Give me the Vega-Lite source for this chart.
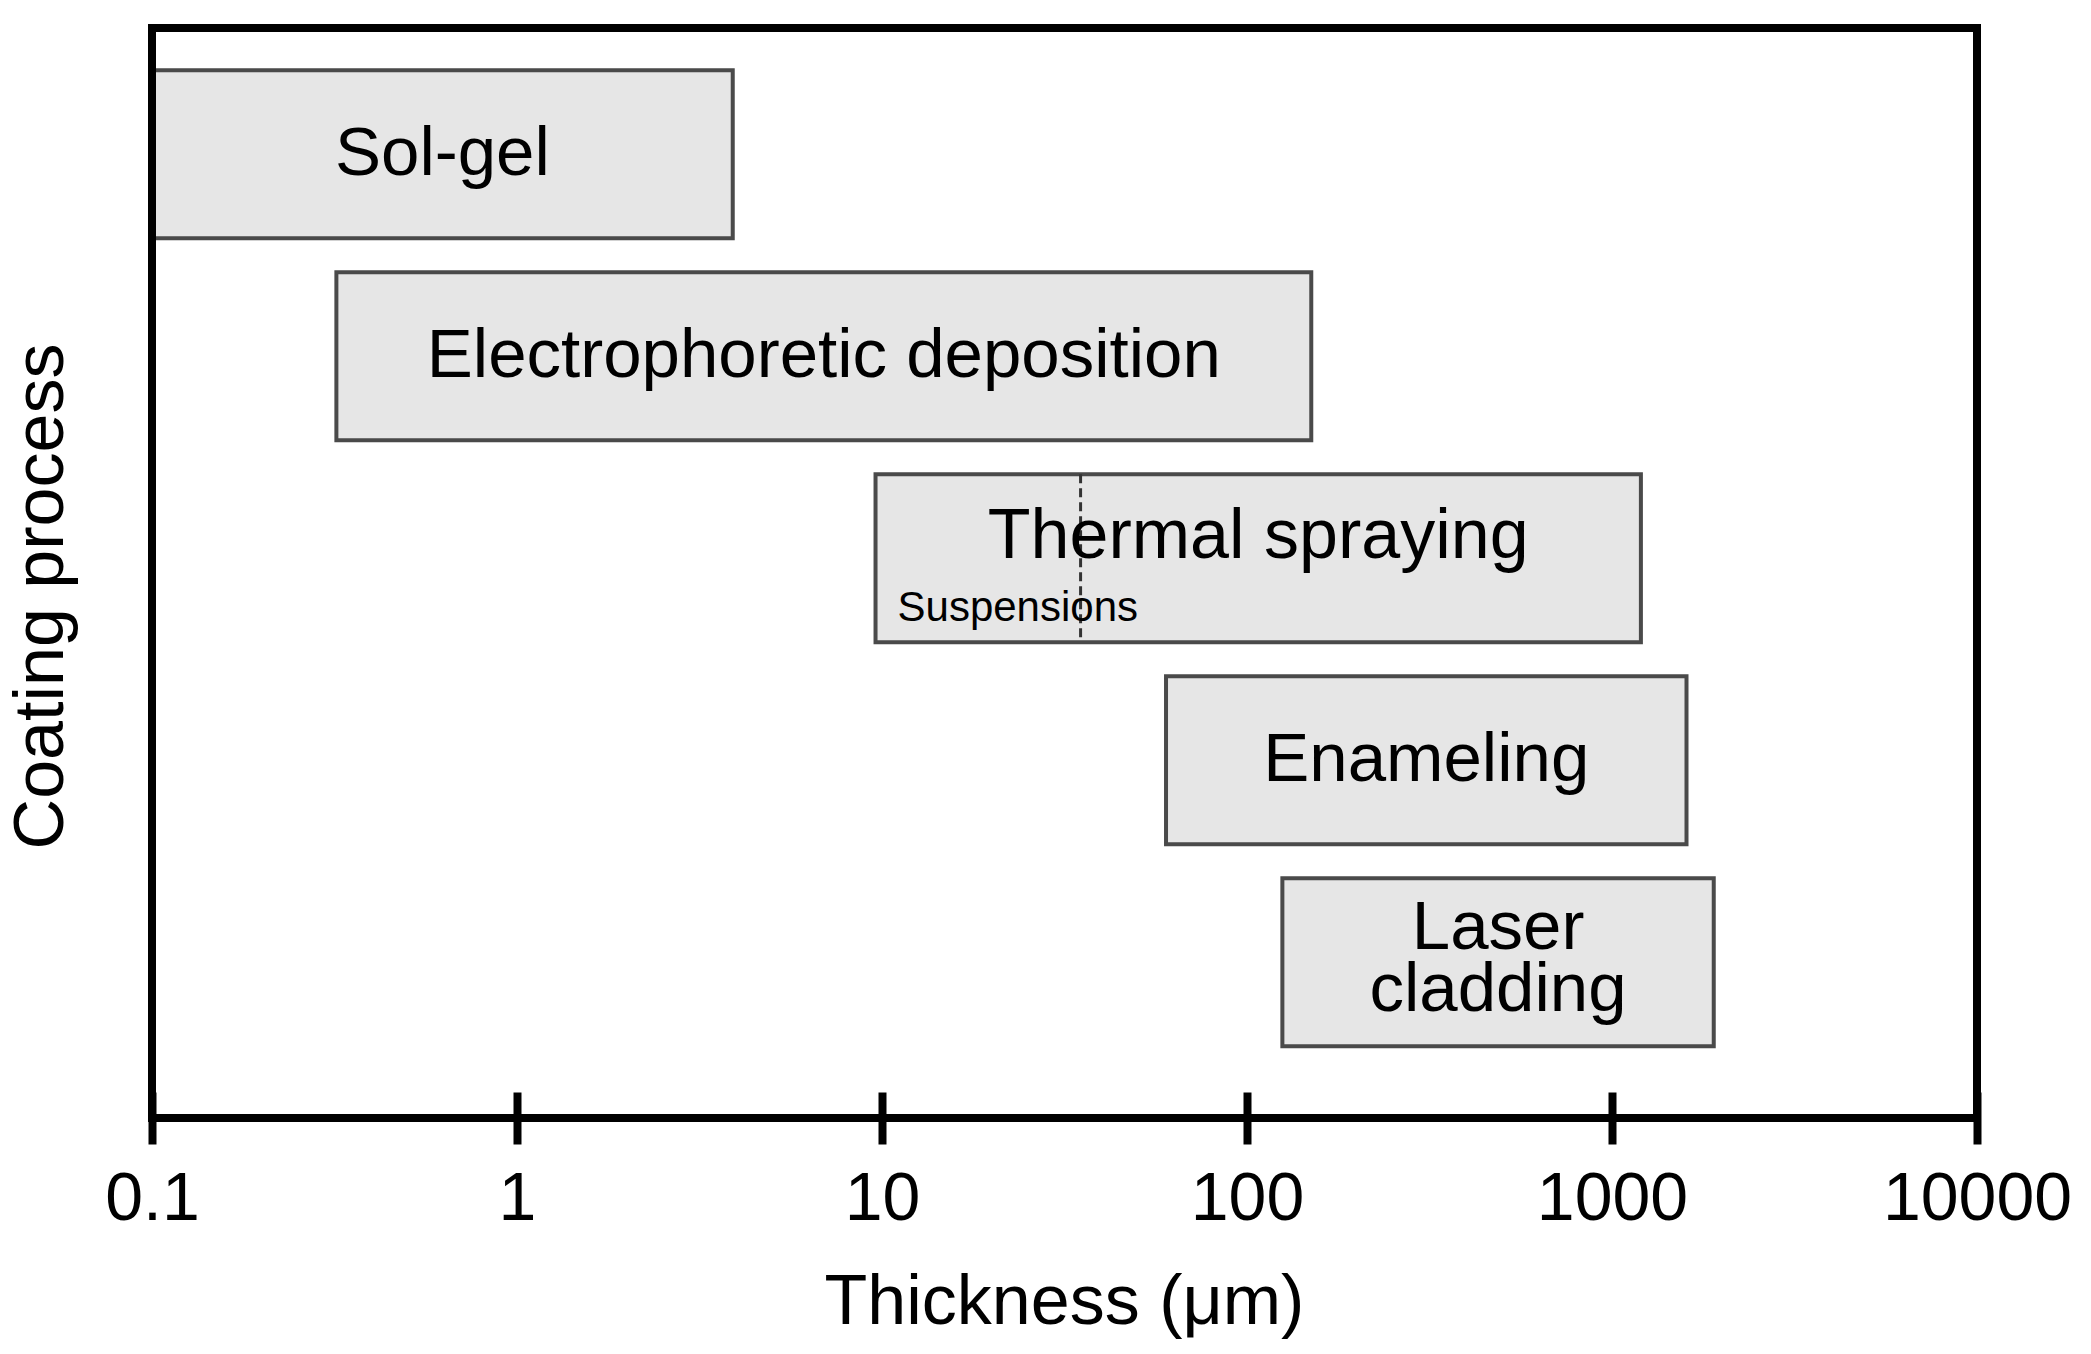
{
  "$schema": "https://vega.github.io/schema/vega-lite/v6.json",
  "width": 1825,
  "height": 1090,
  "autosize": {"type": "none"},
  "padding": {"left": 152, "top": 28, "right": 114, "bottom": 236},
  "background": "white",
  "config": {"view": {"stroke": "black", "strokeWidth": 8}, "font": "Liberation Sans"},
  "datasets": {
    "processes": [
      {"process": "Sol-gel", "label": "Sol-gel", "start": 0.1, "end": 3.9},
      {"process": "Electrophoretic deposition", "label": "Electrophoretic deposition", "start": 0.32, "end": 150},
      {"process": "Thermal spraying", "label": "Thermal spraying", "start": 9.6, "end": 1200},
      {"process": "Enameling", "label": "Enameling", "start": 60, "end": 1600},
      {"process": "Laser cladding", "label": "Laser\ncladding", "start": 125, "end": 1900}
    ],
    "suspension": [{"process": "Thermal spraying", "label": "Suspensions", "start": 9.6, "limit": 35}],
    "frame": [{"edge": 0.1}]
  },
  "layer": [
    {
      "data": {"name": "processes"},
      "mark": {"type": "rect", "fill": "#e6e6e6", "stroke": "#4a4a4a", "strokeWidth": 4},
      "encoding": {
        "x": {
          "field": "start", "type": "quantitative",
          "scale": {"type": "log", "domain": [0.1, 10000], "nice": false},
          "axis": {
            "title": "Thickness (μm)", "values": [0.1, 1, 10, 100, 1000, 10000], "format": "~g",
            "domain": false, "grid": false, "offset": -26, "tickSize": 52, "tickWidth": 8, "tickColor": "black",
            "labelFontSize": 68, "labelColor": "black", "labelBaseline": "alphabetic", "labelPadding": 75,
            "labelFlush": false, "labelOverlap": false, "labelLimit": 0,
            "titleFontSize": 70, "titleFontWeight": "normal", "titleColor": "black", "titleBaseline": "alphabetic",
            "titleY": 231, "titleX": 912, "titleAlign": "center"
          }
        },
        "x2": {"field": "end"},
        "y": {
          "field": "process", "type": "nominal",
          "scale": {"type": "band", "domain": ["Sol-gel", "Electrophoretic deposition", "Thermal spraying", "Enameling", "Laser cladding"], "paddingInner": 0.168, "paddingOuter": 0.282, "align": 0.37},
          "axis": {
            "title": "Coating process", "labels": false, "ticks": false, "domain": false, "grid": false,
            "titleFontSize": 70, "titleFontWeight": "normal", "titleColor": "black", "titleAngle": -90,
            "titleBaseline": "alphabetic", "titleAlign": "center", "titleX": -90, "titleY": 568
          }
        }
      }
    },
    {
      "data": {"name": "frame"},
      "mark": {"type": "rule", "stroke": "black", "strokeWidth": 8},
      "encoding": {"x": {"field": "edge", "type": "quantitative"}}
    },
    {
      "data": {"name": "suspension"},
      "mark": {"type": "rule", "stroke": "#333333", "strokeWidth": 3, "strokeDash": [9, 5]},
      "encoding": {
        "x": {"field": "limit", "type": "quantitative"},
        "y": {"field": "process", "type": "nominal", "bandPosition": 0},
        "y2": {"field": "process", "bandPosition": 1}
      }
    },
    {
      "data": {"name": "processes"},
      "transform": [
        {"filter": "datum.process !== 'Thermal spraying' && datum.process !== 'Laser cladding'"},
        {"calculate": "sqrt(datum.start * datum.end)", "as": "mid"}
      ],
      "mark": {"type": "text", "fontSize": 69, "color": "black", "align": "center", "baseline": "middle"},
      "encoding": {
        "x": {"field": "mid", "type": "quantitative"},
        "y": {"field": "process", "type": "nominal"},
        "text": {"field": "label", "type": "nominal"}
      }
    },
    {
      "data": {"name": "processes"},
      "transform": [
        {"filter": "datum.process === 'Laser cladding'"},
        {"calculate": "sqrt(datum.start * datum.end)", "as": "mid"}
      ],
      "mark": {"type": "text", "fontSize": 69, "color": "black", "align": "center", "baseline": "alphabetic", "lineBreak": "\n", "lineHeight": 62, "dy": -13},
      "encoding": {
        "x": {"field": "mid", "type": "quantitative"},
        "y": {"field": "process", "type": "nominal"},
        "text": {"field": "label", "type": "nominal"}
      }
    },
    {
      "data": {"name": "processes"},
      "transform": [
        {"filter": "datum.process === 'Thermal spraying'"},
        {"calculate": "sqrt(datum.start * datum.end)", "as": "mid"}
      ],
      "mark": {"type": "text", "fontSize": 70, "color": "black", "align": "center", "baseline": "alphabetic"},
      "encoding": {
        "x": {"field": "mid", "type": "quantitative"},
        "y": {"field": "process", "type": "nominal"},
        "text": {"field": "label", "type": "nominal"}
      }
    },
    {
      "data": {"name": "suspension"},
      "mark": {"type": "text", "fontSize": 42, "color": "black", "align": "left", "baseline": "alphabetic", "dx": 22, "dy": -21},
      "encoding": {
        "x": {"field": "start", "type": "quantitative"},
        "y": {"field": "process", "type": "nominal", "bandPosition": 1},
        "text": {"field": "label", "type": "nominal"}
      }
    }
  ]
}
